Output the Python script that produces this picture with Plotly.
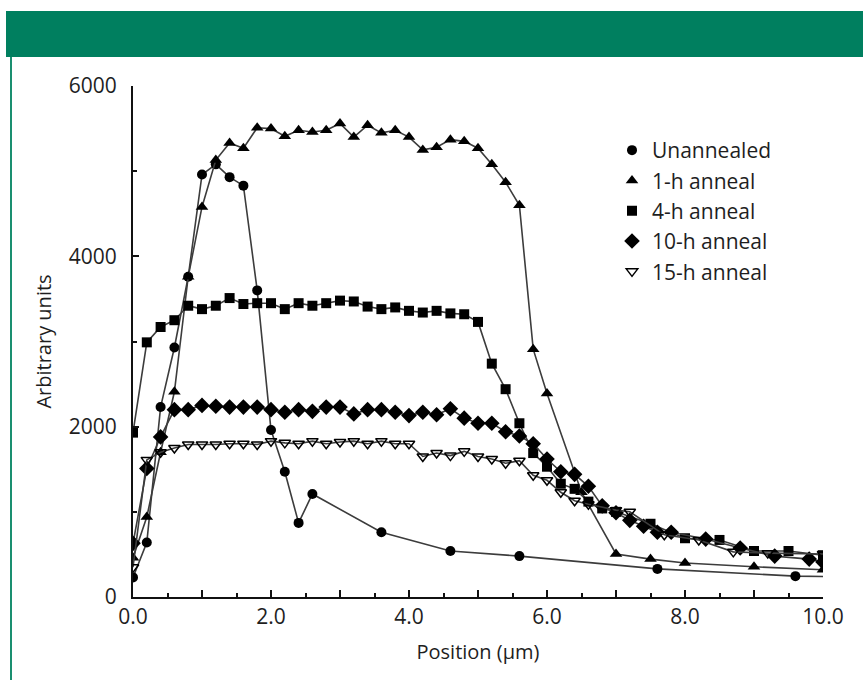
import plotly.graph_objects as go

# ---------------- data ----------------
unann_x = [0.0, 0.2, 0.4, 0.6, 0.8, 1.0, 1.2, 1.4, 1.6, 1.8, 2.0, 2.2, 2.4, 2.6, 3.6, 4.6, 5.6, 7.6, 9.6, 10.0]
unann_y = [230, 640, 2230, 2930, 3760, 4960, 5080, 4930, 4830, 3600, 1960, 1470, 870, 1210, 760, 540, 480, 330, 245, 240]

h1_x = [0.0, 0.2, 0.4, 0.6, 0.8, 1.0, 1.2, 1.4, 1.6, 1.8, 2.0, 2.2, 2.4, 2.6, 2.8, 3.0, 3.2, 3.4, 3.6, 3.8,
        4.0, 4.2, 4.4, 4.6, 4.8, 5.0, 5.2, 5.4, 5.6, 5.8, 6.0, 6.5, 7.0, 7.5, 8.0, 9.0, 10.0]
h1_y = [460, 940, 1700, 2410, 3760, 4580, 5130, 5330, 5270, 5510, 5500, 5410, 5480, 5460, 5480, 5560, 5400, 5540, 5450, 5480,
        5400, 5250, 5280, 5370, 5350, 5270, 5080, 4870, 4600, 2910, 2390, 1230, 505, 445, 400, 355, 320]

h4_x = [0.0, 0.2, 0.4, 0.6, 0.8, 1.0, 1.2, 1.4, 1.6, 1.8, 2.0, 2.2, 2.4, 2.6, 2.8, 3.0, 3.2, 3.4, 3.6, 3.8,
        4.0, 4.2, 4.4, 4.6, 4.8, 5.0, 5.2, 5.4, 5.6, 5.8, 6.0, 6.2, 6.4, 6.6, 6.8, 7.0, 7.5, 8.0, 8.5, 9.0, 9.5, 10.0]
h4_y = [1930, 2990, 3170, 3250, 3420, 3380, 3420, 3510, 3440, 3450, 3450, 3380, 3450, 3420, 3450, 3480, 3470, 3410, 3380, 3400,
        3360, 3340, 3360, 3330, 3320, 3230, 2740, 2440, 2040, 1690, 1530, 1330, 1270, 1120, 1040, 1000, 860, 690, 670, 540, 540, 490]

h10_x = [0.0, 0.2, 0.4, 0.6, 0.8, 1.0, 1.2, 1.4, 1.6, 1.8, 2.0, 2.2, 2.4, 2.6, 2.8, 3.0, 3.2, 3.4, 3.6, 3.8,
         4.0, 4.2, 4.4, 4.6, 4.8, 5.0, 5.2, 5.4, 5.6, 5.8, 6.0, 6.2, 6.4, 6.6, 6.8, 7.0, 7.2, 7.4, 7.6, 7.8,
         8.3, 8.8, 9.3, 9.8, 10.0]
h10_y = [630, 1510, 1880, 2200, 2200, 2250, 2240, 2230, 2230, 2230, 2200, 2170, 2200, 2180, 2230, 2230, 2150, 2200, 2200, 2170,
         2130, 2170, 2140, 2210, 2100, 2040, 2040, 1940, 1890, 1800, 1620, 1470, 1440, 1300, 1070, 990, 900, 830, 760, 760,
         680, 575, 480, 445, 410]

h15_x = [0.0, 0.2, 0.4, 0.6, 0.8, 1.0, 1.2, 1.4, 1.6, 1.8, 2.0, 2.2, 2.4, 2.6, 2.8, 3.0, 3.2, 3.4, 3.6, 3.8,
         4.0, 4.2, 4.4, 4.6, 4.8, 5.0, 5.2, 5.4, 5.6, 5.8, 6.0, 6.2, 6.4, 6.6, 7.0, 7.2, 7.7, 8.2, 8.7, 9.2, 10.0]
h15_y = [350, 1610, 1700, 1750, 1790, 1790, 1790, 1800, 1800, 1790, 1830, 1810, 1800, 1830, 1800, 1820, 1830, 1800, 1830, 1800,
         1800, 1650, 1690, 1660, 1710, 1650, 1620, 1570, 1600, 1430, 1370, 1230, 1130, 1090, 1020, 1000, 730, 670, 530, 515, 505]

series_names = ["Unannealed", "1-h anneal", "4-h anneal", "10-h anneal", "15-h anneal"]

x_tickvals = [0, 1, 2, 3, 4, 5, 6, 7, 8, 9, 10]
x_ticktext = ["0.0", "", "2.0", "", "4.0", "", "6.0", "", "8.0", "", "10.0"]
y_tickvals = [0, 2000, 4000, 6000]
y_ticktext = ["0", "2000", "4000", "6000"]

# ---------------- styling ----------------
LINE_COL = "#3c3c3c"
MK_COL = "#000000"
TXT_COL = "#1e1e1e"
FONT = "Open Sans"

styles = [
    dict(symbol="circle", size=10),
    dict(symbol="triangle-up", size=11),
    dict(symbol="square", size=10),
    dict(symbol="diamond", size=12),
    dict(symbol="triangle-down-open", size=10),
]
xs = [unann_x, h1_x, h4_x, h10_x, h15_x]
ys = [unann_y, h1_y, h4_y, h10_y, h15_y]

fig = go.Figure()

for i, (x, y) in enumerate(zip(xs, ys)):
    st = styles[i]
    sizes = [st["size"]] * len(x)
    if i == 0:
        sizes[-1] = 0  # line continues to the axis end without a marker
    fig.add_trace(go.Scatter(
        x=x, y=y, mode="lines+markers", showlegend=False,
        line=dict(color=LINE_COL, width=1.6),
        marker=dict(symbol=st["symbol"], size=sizes, color=MK_COL, opacity=1,
                    line=dict(color=MK_COL, width=1.5 if "open" in st["symbol"] else 0)),
        name=series_names[i],
    ))

# legend-only entries (markers only)
for i, name in enumerate(series_names):
    st = styles[i]
    fig.add_trace(go.Scatter(
        x=[None], y=[None], mode="markers", name=name,
        marker=dict(symbol=st["symbol"], size=st["size"], color=MK_COL, opacity=1,
                    line=dict(color=MK_COL, width=1.5 if "open" in st["symbol"] else 0)),
    ))

# plot area: x 133..823 px, y 86..597 px
L, R, T, B = 133, 40, 86, 83
W, H = 863, 680
pw, ph = W - L - R, H - T - B

def px_to_paper_x(px):
    return (px - L) / pw

def py_to_paper_y(py):
    return (H - B - py) / ph

shapes = [
    # green header band
    dict(type="rect", xref="paper", yref="paper",
         x0=px_to_paper_x(6), x1=px_to_paper_x(870),
         y0=py_to_paper_y(57), y1=py_to_paper_y(11),
         fillcolor="#007F5F", line=dict(width=0), layer="above"),
    # left green border
    dict(type="line", xref="paper", yref="paper",
         x0=px_to_paper_x(11), x1=px_to_paper_x(11),
         y0=py_to_paper_y(57), y1=py_to_paper_y(690),
         line=dict(color="#1a8f70", width=2)),
]

fig.update_layout(
    width=W, height=H,
    margin=dict(l=L, r=R, t=T, b=B, pad=0),
    paper_bgcolor="white", plot_bgcolor="white",
    font=dict(family=FONT, size=20, color=TXT_COL),
    shapes=shapes,
    legend=dict(
        x=px_to_paper_x(612), y=py_to_paper_y(130), xanchor="left", yanchor="top",
        bgcolor="rgba(0,0,0,0)", font=dict(family=FONT, size=21, color=TXT_COL),
        itemsizing="trace", tracegroupgap=0, itemwidth=30,
    ),
    xaxis=dict(
        range=[0, 10], showgrid=False, zeroline=False,
        showline=True, linecolor="#111111", linewidth=2,
        tickmode="array", tickvals=x_tickvals, ticktext=x_ticktext,
        ticks="inside", ticklen=7, tickwidth=1.5, tickcolor="#111111",
        minor=dict(ticks="inside", ticklen=4, dtick=0.5, tickcolor="#111111", tickwidth=1.5, showgrid=False),
        tickfont=dict(size=21, color=TXT_COL),
        title=dict(text="Position (µm)", font=dict(size=20, color=TXT_COL), standoff=16),
    ),
    yaxis=dict(
        range=[0, 6000], showgrid=False, zeroline=False,
        showline=True, linecolor="#111111", linewidth=2,
        tickmode="array", tickvals=y_tickvals, ticktext=y_ticktext,
        ticks="inside", ticklen=6, tickwidth=1.5, tickcolor="#111111",
        minor=dict(ticks="inside", ticklen=4, dtick=1000, tickcolor="#111111", tickwidth=1.5, showgrid=False),
        tickfont=dict(size=21, color=TXT_COL),
        ticklabelstandoff=10,
        title=dict(text="Arbitrary units", font=dict(size=20, color=TXT_COL), standoff=12),
    ),
)

fig.write_html("out.html", config={"displayModeBar": False},
               post_script="document.body.style.margin='0';document.body.style.overflow='hidden';")
